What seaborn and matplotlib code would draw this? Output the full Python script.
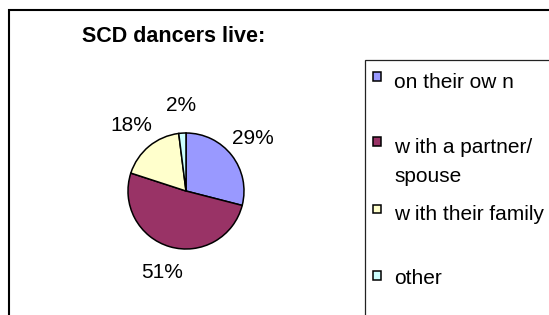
import matplotlib
matplotlib.use("Agg")
import matplotlib.pyplot as plt
from matplotlib.patches import Rectangle
import seaborn as sns

categories = ["on their ow n", "w ith a partner/\nspouse", "w ith their family", "other"]
shares = [29, 51, 18, 2]
colors = ["#9999FF", "#993366", "#FFFFCC", "#CCFFFF"]
title = "SCD dancers live:"

sns.set_theme(style="white")
plt.rcParams["font.family"] = ["Liberation Sans", "DejaVu Sans"]
plt.rcParams["text.color"] = "black"

W, H = 549, 315
fig = plt.figure(figsize=(W / 100, H / 100), dpi=100)
fig.patch.set_facecolor("white")

# outer chart frame (cropped at right and bottom)
fig.patches.append(Rectangle((9.0 / W, -0.2), 1.2, (H - 10.2) / H + 0.2,
                             transform=fig.transFigure, fill=False,
                             edgecolor="black", linewidth=1.5))

cx, cy, r = 186.0, 191.0, 58.0
ax = fig.add_axes([(cx - r) / W, (H - cy - r) / H, 2 * r / W, 2 * r / H])
wedges, texts, autotexts = ax.pie(
    shares, colors=colors, startangle=90, counterclock=False,
    wedgeprops=dict(edgecolor="black", linewidth=1.1),
    autopct="%1.0f%%", pctdistance=1.47, radius=1.0,
    textprops=dict(fontsize=15, color="black"))
ax.set_xlim(-1.0, 1.0)
ax.set_ylim(-1.0, 1.0)
ax.set_aspect("equal")
ax.axis("off")
for t in autotexts:
    t.set_clip_on(False)

fig.text(82 / W, 1 - 37 / H, title, fontsize=15.5, fontweight="bold",
         ha="left", va="center", color="black")

# legend box (cropped at right and bottom)
lx, ly = 365, 59.5
fig.patches.append(Rectangle((lx / W, -0.2), 1.2, (H - ly) / H + 0.2,
                             transform=fig.transFigure, fill=False,
                             edgecolor="#222222", linewidth=0.9))
marker_rows = [76.7, 141.7, 208.8, 275.5]
text_rows = [82, 162, 214, 279]
ms = 8.5
for lab, col, my, ty in zip(categories, colors, marker_rows, text_rows):
    fig.patches.append(Rectangle(((377 - ms / 2) / W, (H - my - ms / 2) / H),
                                 ms / W, ms / H, transform=fig.transFigure,
                                 facecolor=col, edgecolor="black", linewidth=1.1))
    fig.text(394 / W, 1 - ty / H, lab, fontsize=15, ha="left", va="center",
             linespacing=1.68, color="black")

fig.savefig("out.png", dpi=100)
